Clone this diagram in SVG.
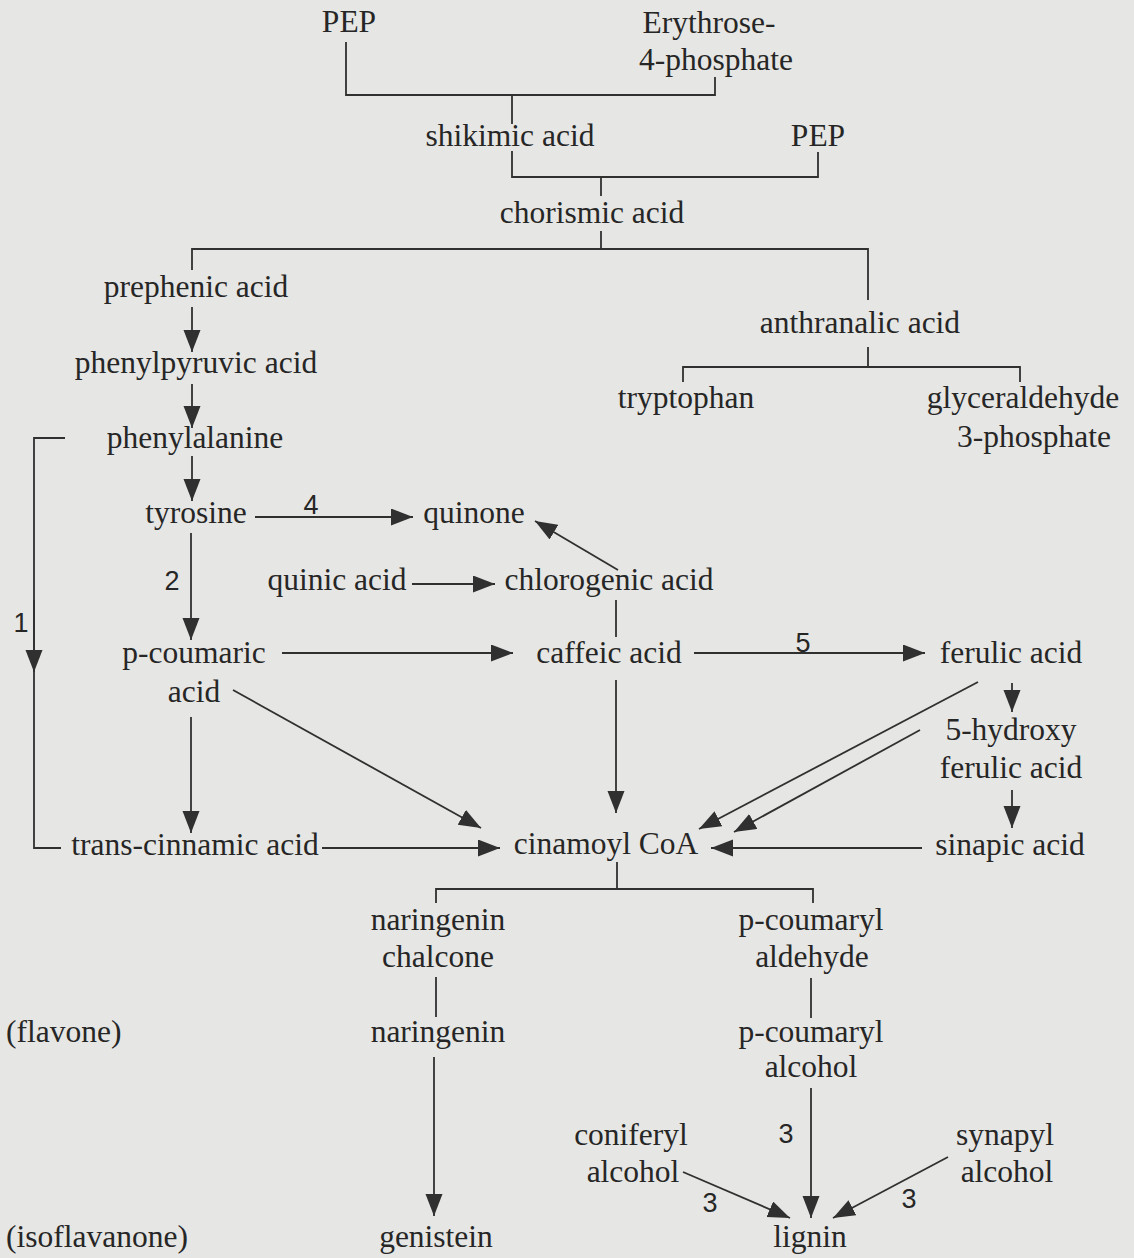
<svg xmlns="http://www.w3.org/2000/svg" width="1134" height="1258" viewBox="0 0 1134 1258">
<defs>
<style>
.t{font-family:"Liberation Serif","Times New Roman",serif;font-size:31.5px;fill:#262626;text-anchor:middle}
.l{text-anchor:start}
.n{font-family:"Liberation Sans",Arial,sans-serif;font-size:27px;fill:#262626;text-anchor:middle}
.c{fill:none;stroke:#303030;stroke-width:1.8}
.a{marker-end:url(#ah)}
</style>
<marker id="ah" markerUnits="userSpaceOnUse" markerWidth="24" markerHeight="18" refX="22" refY="8.5" orient="auto">
<path d="M0,0 L22,8.5 L0,17 z" fill="#303030"/>
</marker>
</defs>
<rect width="1134" height="1258" fill="#e6e6e4"/>
<g id="connectors">
<path class="c" d="M346,42 V95 H715 V77"/>
<path class="c" d="M512,95 V124"/>
<path class="c" d="M512,151 V177 H818 V152"/>
<path class="c" d="M601,177 V196"/>
<path class="c" d="M601,231 V249"/>
<path class="c" d="M192,270 V249 H868 V300"/>
<path class="c" d="M868,347 V367 M683,382 V367 H1020 V382"/>
<line class="c a" x1="192" y1="307" x2="192" y2="352"/>
<line class="c a" x1="192" y1="384" x2="192" y2="428"/>
<line class="c a" x1="192" y1="456" x2="192" y2="501"/>
<line class="c a" x1="255" y1="517" x2="413" y2="517"/>
<line class="c a" x1="191" y1="533" x2="191" y2="640"/>
<line class="c a" x1="412" y1="584" x2="495" y2="584"/>
<line class="c a" x1="618" y1="570" x2="535" y2="521"/>
<line class="c" x1="616" y1="600" x2="616" y2="637"/>
<line class="c a" x1="282" y1="653" x2="513" y2="653"/>
<line class="c a" x1="694" y1="653" x2="925" y2="653"/>
<line class="c a" x1="1012" y1="683" x2="1012" y2="712"/>
<line class="c a" x1="616" y1="680" x2="616" y2="813"/>
<line class="c a" x1="233" y1="690" x2="481" y2="828"/>
<line class="c a" x1="191" y1="717" x2="191" y2="833"/>
<line class="c a" x1="978" y1="682" x2="699" y2="829"/>
<line class="c a" x1="920" y1="730" x2="734" y2="832"/>
<line class="c a" x1="1012" y1="790" x2="1012" y2="828"/>
<line class="c a" x1="922" y1="848" x2="711" y2="848"/>
<line class="c a" x1="322" y1="848" x2="500" y2="848"/>
<path class="c" d="M65,438 H34 V848 H61"/>
<line class="c a" x1="34" y1="600" x2="34" y2="672"/>
<path class="c" d="M617,862 V889 M436,903 V889 H813 V903"/>
<line class="c" x1="436" y1="977" x2="436" y2="1017"/>
<line class="c" x1="811" y1="978" x2="811" y2="1018"/>
<line class="c a" x1="434" y1="1057" x2="434" y2="1216"/>
<line class="c a" x1="811" y1="1088" x2="811" y2="1218"/>
<line class="c a" x1="683" y1="1172" x2="790" y2="1218"/>
<line class="c a" x1="948" y1="1157" x2="833" y2="1218"/>
</g>
<g id="labels">
<text class="n" x="311" y="514">4</text>
<text class="n" x="172" y="590">2</text>
<text class="n" x="21" y="632">1</text>
<text class="n" x="803" y="652">5</text>
<text class="n" x="786" y="1143">3</text>
<text class="n" x="710" y="1212">3</text>
<text class="n" x="909" y="1208">3</text>
</g>
<g id="pep1"><text class="t" x="349" y="32">PEP</text></g>
<g id="erythrose"><text class="t" x="709" y="33">Erythrose-</text><text class="t" x="716" y="70">4-phosphate</text></g>
<g id="shikimic"><text class="t" x="510" y="146">shikimic acid</text></g>
<g id="pep2"><text class="t" x="818" y="146">PEP</text></g>
<g id="chorismic"><text class="t" x="592" y="223">chorismic acid</text></g>
<g id="prephenic"><text class="t" x="196" y="297">prephenic acid</text></g>
<g id="anthranalic"><text class="t" x="860" y="333">anthranalic acid</text></g>
<g id="phenylpyruvic"><text class="t" x="196" y="373">phenylpyruvic acid</text></g>
<g id="tryptophan"><text class="t" x="686" y="408">tryptophan</text></g>
<g id="glyceraldehyde"><text class="t" x="1023" y="408">glyceraldehyde</text><text class="t" x="1034" y="447">3-phosphate</text></g>
<g id="phenylalanine"><text class="t" x="195" y="448">phenylalanine</text></g>
<g id="tyrosine"><text class="t" x="196" y="523">tyrosine</text></g>
<g id="quinone"><text class="t" x="474" y="523">quinone</text></g>
<g id="quinic"><text class="t" x="337" y="590">quinic acid</text></g>
<g id="chlorogenic"><text class="t" x="609" y="590">chlorogenic acid</text></g>
<g id="pcoumaric"><text class="t" x="194" y="663">p-coumaric</text><text class="t" x="194" y="702">acid</text></g>
<g id="caffeic"><text class="t" x="609" y="663">caffeic acid</text></g>
<g id="ferulic"><text class="t" x="1011" y="663">ferulic acid</text></g>
<g id="hydroxyferulic"><text class="t" x="1011" y="740">5-hydroxy</text><text class="t" x="1011" y="778">ferulic acid</text></g>
<g id="transcinnamic"><text class="t" x="195" y="855">trans-cinnamic acid</text></g>
<g id="cinamoyl"><text class="t" x="606" y="854">cinamoyl CoA</text></g>
<g id="sinapic"><text class="t" x="1010" y="855">sinapic acid</text></g>
<g id="naringeninchalcone"><text class="t" x="438" y="930">naringenin</text><text class="t" x="438" y="967">chalcone</text></g>
<g id="pcoumarylaldehyde"><text class="t" x="811" y="930">p-coumaryl</text><text class="t" x="812" y="967">aldehyde</text></g>
<g id="flavone"><text class="t l" x="6" y="1042">(flavone)</text></g>
<g id="naringenin"><text class="t" x="438" y="1042">naringenin</text></g>
<g id="pcoumarylalcohol"><text class="t" x="811" y="1042">p-coumaryl</text><text class="t" x="811" y="1077">alcohol</text></g>
<g id="coniferyl"><text class="t" x="631" y="1145">coniferyl</text><text class="t" x="633" y="1182">alcohol</text></g>
<g id="synapyl"><text class="t" x="1005" y="1145">synapyl</text><text class="t" x="1007" y="1182">alcohol</text></g>
<g id="isoflavanone"><text class="t l" x="6" y="1247">(isoflavanone)</text></g>
<g id="genistein"><text class="t" x="436" y="1247">genistein</text></g>
<g id="lignin"><text class="t" x="810" y="1247">lignin</text></g>
</svg>
